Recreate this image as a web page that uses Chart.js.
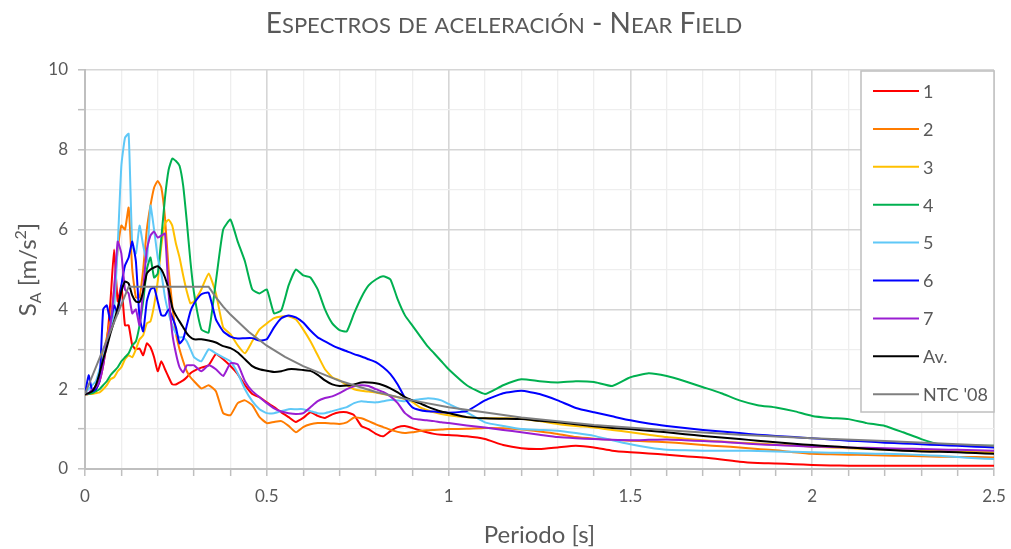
<!DOCTYPE html>
<html lang="es">
<head>
<meta charset="UTF-8">
<title>Espectros de aceleración - Near Field</title>
<script src="https://cdn.jsdelivr.net/npm/chart.js@4.4.1/dist/chart.umd.min.js"></script>
<style>
  html, body { margin: 0; padding: 0; background: #fff; }
  canvas { display: block; }
</style>
</head>
<body>
<canvas id="grafico" width="1011" height="549"></canvas>

<script>
// Periodos (s) comunes a los registros 1..7 y al promedio
const periodos = [
  0, 0.01, 0.02, 0.03, 0.04, 0.05, 0.06, 0.07, 0.08, 0.09,
  0.1, 0.11, 0.12, 0.13, 0.14, 0.15, 0.16, 0.17, 0.18, 0.19,
  0.2, 0.21, 0.22, 0.23, 0.24, 0.25, 0.26, 0.27, 0.28, 0.29, 0.3,
  0.32, 0.34, 0.36, 0.38, 0.4, 0.42, 0.44, 0.46, 0.48, 0.5,
  0.52, 0.54, 0.56, 0.58, 0.6, 0.62, 0.64, 0.66, 0.68, 0.7,
  0.72, 0.74, 0.76, 0.78, 0.8, 0.82, 0.84, 0.86, 0.88, 0.9,
  0.92, 0.94, 0.96, 0.98, 1,
  1.05, 1.1, 1.15, 1.2, 1.25, 1.3, 1.35, 1.4, 1.45, 1.5,
  1.55, 1.6, 1.65, 1.7, 1.75, 1.8, 1.85, 1.9, 1.95, 2,
  2.05, 2.1, 2.15, 2.2, 2.25, 2.3, 2.35, 2.4, 2.45, 2.5
];

// Sa [m/s2]
const sa1 = [
  1.87, 1.88, 1.9, 2.0, 2.2, 2.6, 3.2, 4.2, 5.5, 4.2,
  4.6, 3.6, 3.6, 3.1, 3.0, 3.02, 2.85, 3.15, 3.05, 2.8,
  2.45, 2.7, 2.5, 2.3, 2.12, 2.12, 2.17, 2.22, 2.3, 2.4, 2.46,
  2.54, 2.6, 2.88, 2.75, 2.58, 2.38, 2.1, 1.88, 1.8, 1.67,
  1.55, 1.42, 1.3, 1.18, 1.28, 1.42, 1.33, 1.28, 1.37, 1.42,
  1.42, 1.35, 1.08, 1.0, 0.88, 0.82, 0.95, 1.05, 1.08, 1.03,
  0.97, 0.92, 0.88, 0.86, 0.85,
  0.82, 0.75, 0.6, 0.52, 0.5, 0.54, 0.58, 0.54, 0.46, 0.42,
  0.39, 0.36, 0.32, 0.29, 0.24, 0.18, 0.15, 0.14, 0.12, 0.1,
  0.09, 0.08, 0.08, 0.08, 0.08, 0.08, 0.08, 0.08, 0.08, 0.08
];
const sa2 = [
  1.87, 1.88, 1.95, 2.1, 2.4, 2.9, 3.3, 3.8, 4.5, 5.5,
  6.1, 6.0, 6.55, 5.0, 4.3, 4.3, 5.0, 6.0, 6.6, 7.05,
  7.22, 7.05, 6.3, 5.0, 4.1, 3.4, 3.0, 2.7, 2.45, 2.3, 2.2,
  2.02, 2.1, 1.95, 1.4, 1.35, 1.65, 1.72, 1.6, 1.3, 1.15,
  1.18, 1.2, 1.08, 0.92, 1.05, 1.12, 1.15, 1.15, 1.14, 1.13,
  1.17, 1.29, 1.27, 1.2, 1.12, 1.05, 0.98, 0.93, 0.9, 0.92,
  0.95, 0.97, 0.98, 0.99, 1.0,
  1.01, 1.03, 1.02, 0.99, 0.94, 0.88, 0.8, 0.76, 0.73, 0.71,
  0.69, 0.67, 0.64, 0.6, 0.57, 0.54, 0.5, 0.47, 0.42, 0.38,
  0.37, 0.36, 0.35, 0.34, 0.33, 0.32, 0.31, 0.3, 0.3, 0.29
];
const sa3 = [
  1.87, 1.88, 1.88, 1.9, 1.92, 2.0, 2.1, 2.25, 2.3, 2.45,
  2.55, 2.75, 2.85, 2.8, 3.0, 3.25, 3.35, 3.65, 3.7, 4.1,
  4.7, 5.6, 6.15, 6.25, 6.1, 5.65, 5.3, 4.85, 4.45, 4.15, 4.2,
  4.5, 4.9, 4.4, 3.55, 3.38, 3.1, 2.9, 3.2, 3.5, 3.65,
  3.78, 3.82, 3.83, 3.75, 3.5, 3.2, 2.85, 2.5, 2.3, 2.22,
  2.1, 2.0, 1.96, 1.94, 1.92, 1.88, 1.84, 1.8, 1.75, 1.68,
  1.55, 1.48, 1.42, 1.38, 1.35,
  1.3, 1.27, 1.27, 1.26, 1.2, 1.13, 1.08, 1.04, 0.98, 0.92,
  0.86, 0.8, 0.76, 0.72, 0.69, 0.66, 0.64, 0.61, 0.59, 0.56,
  0.54, 0.52, 0.5, 0.49, 0.47, 0.46, 0.45, 0.44, 0.43, 0.42
];
const sa4 = [
  1.87, 1.88, 1.9, 1.95, 2.0, 2.1, 2.2, 2.35, 2.45, 2.55,
  2.7, 2.8, 2.9, 3.1, 3.2, 3.6, 4.2, 5.0, 5.3, 4.8,
  4.9, 5.8, 6.8, 7.5, 7.78, 7.72, 7.6, 7.1, 6.2, 5.2, 4.4,
  3.5, 3.42, 4.7, 6.0, 6.25, 5.7, 5.2, 4.5, 4.4, 4.5,
  3.9, 3.98, 4.6, 5.0, 4.85, 4.8, 4.5, 4.0, 3.65, 3.48,
  3.45, 3.9, 4.3, 4.6, 4.75, 4.83, 4.75, 4.25, 3.85, 3.6,
  3.35, 3.1, 2.9, 2.7, 2.5,
  2.1, 1.88, 2.1, 2.25, 2.2, 2.17, 2.2, 2.18, 2.08, 2.3,
  2.4, 2.33, 2.2, 2.05, 1.9, 1.72, 1.6, 1.54, 1.45, 1.33,
  1.28, 1.25, 1.15, 1.08, 0.92, 0.75, 0.62, 0.6, 0.59, 0.58
];
const sa5 = [
  1.9, 2.0, 2.1, 2.2, 2.5, 2.8, 3.2, 3.5, 4.0, 5.6,
  7.6, 8.3, 8.4, 5.6, 5.4, 6.1, 5.6, 5.2, 6.6, 6.0,
  5.3, 4.9, 4.3, 3.9, 3.6, 3.4, 3.3, 3.3, 3.2, 3.0, 2.8,
  2.7, 3.0, 2.9, 2.8, 2.7, 2.4, 2.0, 1.7, 1.5, 1.4,
  1.4, 1.45, 1.5, 1.5, 1.5, 1.45, 1.4, 1.4, 1.45, 1.5,
  1.55, 1.65, 1.7, 1.68, 1.67, 1.7, 1.73, 1.72, 1.7, 1.72,
  1.75, 1.77, 1.76, 1.72, 1.63,
  1.42, 1.17, 1.08, 1.0, 0.98, 0.96, 0.9, 0.83, 0.72, 0.62,
  0.54, 0.48, 0.47, 0.46, 0.46, 0.46, 0.45, 0.44, 0.43, 0.42,
  0.41, 0.4, 0.39, 0.38, 0.37, 0.35, 0.33, 0.3, 0.27, 0.25
];
const sa6 = [
  1.87, 2.35, 1.95, 2.0, 2.2, 4.0, 4.1, 3.7, 4.1, 3.9,
  4.6, 5.1, 5.3, 5.7, 5.2, 3.8, 3.45, 4.2, 4.5, 4.55,
  4.2, 3.85, 3.85, 4.0, 3.8, 3.55, 3.15, 3.25, 3.6, 3.95, 4.15,
  4.38, 4.42, 3.75, 3.45, 3.32, 3.27, 3.28, 3.28, 3.22, 3.25,
  3.55, 3.78, 3.85, 3.8, 3.67, 3.47, 3.3, 3.2, 3.1, 3.02,
  2.95, 2.88, 2.82, 2.75, 2.68, 2.55, 2.38, 2.12, 1.78, 1.55,
  1.48, 1.45, 1.44, 1.42, 1.41,
  1.45, 1.72, 1.9, 1.96, 1.88, 1.72, 1.53, 1.42, 1.32, 1.22,
  1.14, 1.08, 1.03, 0.98, 0.94, 0.9, 0.86, 0.83, 0.8, 0.77,
  0.74, 0.71, 0.69, 0.66, 0.64, 0.62, 0.6, 0.58, 0.56, 0.54
];
const sa7 = [
  1.87, 1.9, 2.0, 2.05, 2.2, 2.6, 3.2, 3.6, 4.5, 5.7,
  5.4, 4.5, 4.4, 3.9, 4.0, 3.6, 4.5, 5.5, 5.85, 5.95,
  5.8, 5.85, 5.9, 4.4, 3.4, 2.9, 2.55, 2.42, 2.6, 2.6, 2.6,
  2.45, 2.6, 2.5, 2.33, 2.65, 2.62, 2.2, 1.95, 1.8, 1.65,
  1.52, 1.44, 1.4, 1.38, 1.4, 1.55, 1.7, 1.78, 1.82, 1.9,
  2.0, 2.07, 2.1, 2.08, 2.0, 1.93, 1.82, 1.65, 1.4, 1.27,
  1.24, 1.22, 1.2, 1.17, 1.15,
  1.09, 1.04, 0.98, 0.92, 0.86, 0.8, 0.77, 0.75, 0.73, 0.72,
  0.73, 0.74, 0.72, 0.7, 0.68, 0.65, 0.62, 0.6, 0.58, 0.56,
  0.55, 0.54, 0.53, 0.52, 0.51, 0.5, 0.49, 0.48, 0.47, 0.46
];
const saMedia = [
  1.87, 1.9, 1.95, 2.1, 2.4, 2.75, 3.05, 3.4, 3.7, 4.05,
  4.45, 4.7, 4.65, 4.35, 4.2, 4.18, 4.45, 4.9, 5.0, 5.05,
  5.08, 5.0, 4.8, 4.5, 4.05, 3.85, 3.7, 3.55, 3.4, 3.3, 3.25,
  3.25, 3.22, 3.17, 3.08, 3.03, 2.92, 2.75, 2.58, 2.5, 2.46,
  2.43, 2.45, 2.5, 2.5, 2.48, 2.46, 2.36, 2.22, 2.12, 2.08,
  2.09, 2.12, 2.17, 2.17, 2.15, 2.1, 2.02, 1.92, 1.8, 1.72,
  1.65, 1.57, 1.5, 1.44, 1.4,
  1.3, 1.27, 1.26, 1.25, 1.21, 1.17, 1.12, 1.07, 1.03, 1.0,
  0.96, 0.92, 0.87, 0.83, 0.79, 0.75, 0.71, 0.67, 0.63, 0.6,
  0.57, 0.54, 0.51, 0.48, 0.46, 0.44, 0.43, 0.42, 0.4, 0.38
];

// Espectro de norma NTC '08
const periodosNTC = [0, 0.12, 0.34, 0.36, 0.38, 0.4, 0.45, 0.5, 0.55, 0.6, 0.7, 0.8, 0.9, 1.0,
                     1.2, 1.4, 1.6, 1.8, 2.0, 2.2, 2.4, 2.5];
const saNTC = [1.88, 4.57, 4.57, 4.3, 4.07, 3.87, 3.44, 3.09, 2.81, 2.58, 2.21, 1.93, 1.72, 1.55,
               1.29, 1.1, 0.97, 0.86, 0.77, 0.7, 0.62, 0.58];

const etiquetas = ['1', '2', '3', '4', '5', '6', '7', 'Av.', "NTC '08"];
const colores = ['#ff0000', '#ff7c00', '#ffc000', '#00b050', '#5fc8f7', '#0000ff', '#9a1ed2', '#000000', '#7f7f7f'];
const serieSa = [sa1, sa2, sa3, sa4, sa5, sa6, sa7, saMedia];

const FUENTE = 'Lato, "Open Sans", sans-serif';
const GRIS = '#595959';

function puntos(xs, ys) {
  return xs.map((x, i) => ({ x: x, y: ys[i] }));
}

const datasets = serieSa.map((ys, i) => ({
  label: etiquetas[i],
  data: puntos(periodos, ys),
  borderColor: colores[i],
  borderWidth: 2,
  pointRadius: 0,
  tension: 0.15,
  order: 9 - i
}));
datasets.push({
  label: etiquetas[8],
  data: puntos(periodosNTC, saNTC),
  borderColor: colores[8],
  borderWidth: 2,
  pointRadius: 0,
  tension: 0,
  order: 0
});

// texto en versalitas: mayúsculas a tamaño normal, minúsculas reducidas
function versalitas(ctx, texto, cx, y, grande, chica) {
  const trozos = [];
  for (const ch of texto) {
    const min = ch !== ch.toUpperCase();
    trozos.push({ t: ch.toUpperCase(), s: min ? chica : grande });
  }
  let ancho = 0;
  trozos.forEach(p => { ctx.font = p.s + 'px ' + FUENTE; p.w = ctx.measureText(p.t).width; ancho += p.w; });
  let x = cx - ancho / 2;
  ctx.textAlign = 'left';
  trozos.forEach(p => { ctx.font = p.s + 'px ' + FUENTE; ctx.fillText(p.t, x, y); x += p.w; });
}

const textos = {
  id: 'textos',
  afterDraw(chart) {
    const ctx = chart.ctx;
    const a = chart.chartArea;
    ctx.save();
    ctx.fillStyle = GRIS;
    ctx.textBaseline = 'alphabetic';

    // titulo
    versalitas(ctx, 'Espectros de aceleración - Near Field', 504, 33, 28, 22);

    // eje x
    ctx.font = '24px ' + FUENTE;
    ctx.textAlign = 'center';
    ctx.fillText('Periodo [s]', (a.left + a.right) / 2, 543);

    // eje y: S_A [m/s^2]
    ctx.translate(36, (a.top + a.bottom) / 2);
    ctx.rotate(-Math.PI / 2);
    const partes = [
      { t: 'S', s: 24, dy: 0 },
      { t: 'A', s: 16, dy: 5 },
      { t: ' [m/s', s: 24, dy: 0 },
      { t: '2', s: 16, dy: -10 },
      { t: ']', s: 24, dy: 0 }
    ];
    let total = 0;
    partes.forEach(p => { ctx.font = p.s + 'px ' + FUENTE; p.w = ctx.measureText(p.t).width; total += p.w; });
    let x = -total / 2;
    ctx.textAlign = 'left';
    partes.forEach(p => { ctx.font = p.s + 'px ' + FUENTE; ctx.fillText(p.t, x, p.dy); x += p.w; });
    ctx.restore();
  }
};

// leyenda con marco dentro del área del gráfico
const leyenda = {
  id: 'leyenda',
  afterDatasetsDraw(chart) {
    const ctx = chart.ctx;
    const a = chart.chartArea;
    const x0 = a.right - 133, y0 = a.top + 1, w = 133, h = 341;
    ctx.save();
    ctx.fillStyle = '#ffffff';
    ctx.fillRect(x0, y0, w, h);
    ctx.strokeStyle = '#bfbfbf';
    ctx.lineWidth = 1.5;
    ctx.strokeRect(x0, y0, w, h);
    ctx.font = '18px ' + FUENTE;
    ctx.textBaseline = 'middle';
    ctx.textAlign = 'left';
    chart.data.datasets.forEach((ds, i) => {
      const y = y0 + 20 + i * 37.9;
      ctx.strokeStyle = ds.borderColor;
      ctx.lineWidth = 2;
      ctx.beginPath();
      ctx.moveTo(x0 + 12, y);
      ctx.lineTo(x0 + 58, y);
      ctx.stroke();
      ctx.fillStyle = GRIS;
      ctx.fillText(ds.label, x0 + 62, y + 1);
    });
    ctx.restore();
  }
};

const esMultiplo = (v, paso) => Math.abs(v / paso - Math.round(v / paso)) < 1e-6;

new Chart(document.getElementById('grafico'), {
  type: 'line',
  data: { datasets: datasets },
  options: {
    responsive: false,
    animation: false,
    events: [],
    layout: { padding: { left: 0, top: 70, right: 17, bottom: 0 } },
    plugins: {
      legend: { display: false },
      tooltip: { enabled: false },
      title: { display: false }
    },
    scales: {
      x: {
        type: 'linear',
        min: 0,
        max: 2.5,
        afterFit: s => { s.height = 80; s.paddingLeft = 0; s.paddingRight = 0; },
        border: { color: '#bfbfbf', width: 2 },
        grid: {
          color: c => esMultiplo(c.tick.value, 0.5) ? '#d6d6d6' : '#eeeeee',
          lineWidth: c => esMultiplo(c.tick.value, 0.5) ? 1.6 : 1.3,
          tickColor: '#bfbfbf',
          tickLength: 7,
          tickWidth: 1.5
        },
        ticks: {
          stepSize: 0.1,
          autoSkip: false,
          maxRotation: 0,
          padding: 10,
          color: GRIS,
          font: { family: FUENTE, size: 17 },
          callback: v => esMultiplo(v, 0.5) ? String(Math.round(v * 10) / 10) : ''
        }
      },
      y: {
        min: 0,
        max: 10,
        afterFit: s => { s.width = 85; s.paddingTop = 0; s.paddingBottom = 0; },
        border: { color: '#bfbfbf', width: 2 },
        grid: {
          color: c => esMultiplo(c.tick.value, 2) ? '#d6d6d6' : '#eeeeee',
          lineWidth: c => esMultiplo(c.tick.value, 2) ? 1.6 : 1.3,
          tickColor: '#bfbfbf',
          tickLength: 7,
          tickWidth: 1.5
        },
        ticks: {
          stepSize: 1,
          autoSkip: false,
          padding: 10,
          color: GRIS,
          font: { family: FUENTE, size: 17 },
          callback: v => esMultiplo(v, 2) ? String(v) : ''
        }
      }
    }
  },
  plugins: [leyenda, textos]
});
</script>
</body>
</html>
